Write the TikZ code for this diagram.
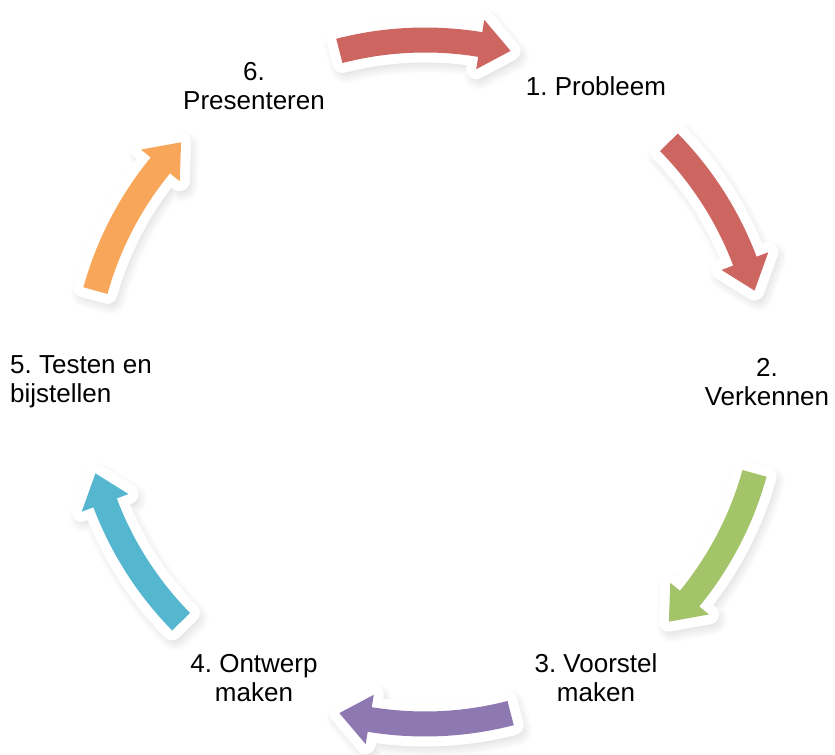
\documentclass[tikz,border=0pt]{standalone}
\usepackage{fontspec}
\setmainfont{Liberation Sans}
\usepackage{tikz}
\usetikzlibrary{shadows.blur}

\definecolor{arrowred}{HTML}{CD6560}
\definecolor{arrowgreen}{HTML}{A4C46A}
\definecolor{arrowpurple}{HTML}{8E78B2}
\definecolor{arrowteal}{HTML}{54B6CF}
\definecolor{arroworange}{HTML}{F8A75A}

% curved block arrow on the circle, #1 = middle angle, #2 = colour
\newcommand{\cyclearrow}[2]{%
  \path[arrowback] ({#1+14.5}:7.09) arc[start angle=#1+14.5, end angle=#1-9.3, radius=7.09]
    -- ({#1-9.3}:7.34) -- ({#1-14.5}:6.84) -- ({#1-9.3}:6.34) -- ({#1-9.3}:6.59)
    arc[start angle=#1-9.3, end angle=#1+14.5, radius=6.59] -- cycle;
  \fill[#2] ({#1+14.5}:7.09) arc[start angle=#1+14.5, end angle=#1-9.3, radius=7.09]
    -- ({#1-9.3}:7.34) -- ({#1-14.5}:6.84) -- ({#1-9.3}:6.34) -- ({#1-9.3}:6.59)
    arc[start angle=#1-9.3, end angle=#1+14.5, radius=6.59] -- cycle;
}

\begin{document}
\frenchspacing
\begin{tikzpicture}[
    arrowback/.style={fill=white, draw=white, line width=0.4cm, line join=round,
      blur shadow={shadow xshift=0.06cm, shadow yshift=-0.1cm, shadow opacity=30,
        shadow blur radius=0.32cm, shadow blur steps=10}},
    label/.style={font=\fontsize{14.8}{16.5}\selectfont, align=center}]
  \useasboundingbox (-8.5,-7.46) rectangle (8.2,7.64);

  % steps
  \node[label] (prob) at (60:6.84) {1. Probleem};
  \node[label] (verk) at (0:6.84) {2.\\Verkennen};
  \node[label] (voor) at (-60:6.84) {3. Voorstel\\maken};
  \node[label] (ontw) at (-120:6.84) {4. Ontwerp\\maken};
  \node[label, align=left] (test) at (180:6.88) {5. Testen en\\bijstellen};
  \node[label] (pres) at (120:6.84) {6.\\Presenteren};

  % arrows between the steps
  \cyclearrow{90}{arrowred}
  \cyclearrow{30}{arrowred}
  \cyclearrow{-30}{arrowgreen}
  \cyclearrow{-90}{arrowpurple}
  \cyclearrow{-150}{arrowteal}
  \cyclearrow{150}{arroworange}
\end{tikzpicture}
\end{document}
